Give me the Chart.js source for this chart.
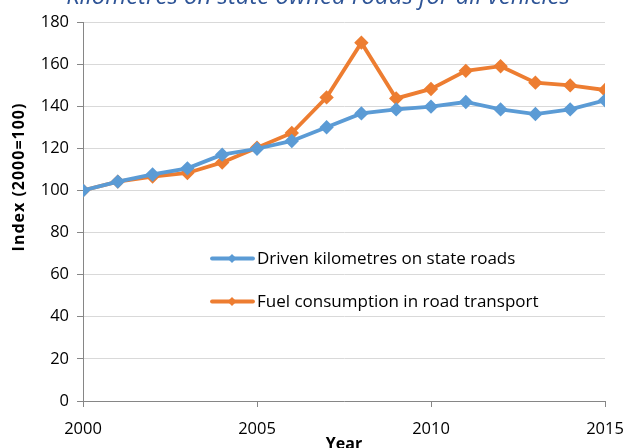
<!DOCTYPE html>
<html>
<head>
<meta charset="utf-8">
<script src="https://cdn.jsdelivr.net/npm/chart.js@4.4.1/dist/chart.umd.min.js"></script>
<style>
  html, body { margin: 0; padding: 0; background: #fff; }
  #wrap { width: 627px; height: 448px; }
</style>
</head>
<body>
<div id="wrap"><canvas id="chart"></canvas></div>
<script>
const years = [2000, 2001, 2002, 2003, 2004, 2005, 2006, 2007, 2008, 2009, 2010, 2011, 2012, 2013, 2014, 2015];
const driven = [100, 104.2, 107.6, 110.5, 117, 119.8, 123.5, 130, 136.6, 138.5, 139.8, 142, 138.5, 136.3, 138.5, 142.8];
const fuel = [100, 104.2, 106.6, 108.3, 113.3, 120.3, 127.3, 144.2, 170.2, 143.7, 148.2, 156.8, 159, 151.2, 149.9, 147.7];
const seriesNames = ['Driven kilometres on state roads', 'Fuel consumption in road transport'];
const chartTitle = 'Kilometres on state owned roads for all vehicles';
const yTitle = 'Index (2000=100)';
const xTitle = 'Year';

const blue = '#5B9BD5';
const orange = '#ED7D31';
const font = '"Open Sans", sans-serif';

// title (partly cut off at the top), y title and the in-plot legend
const extras = {
  id: 'extras',
  afterDraw(chart) {
    const ctx = chart.ctx;
    ctx.save();
    ctx.fillStyle = '#2F5597';
    ctx.font = 'italic 24px ' + font;
    ctx.textAlign = 'center';
    ctx.textBaseline = 'alphabetic';
    ctx.fillText(chartTitle, 318, 4);

    ctx.translate(19, 177);
    ctx.rotate(-Math.PI / 2);
    ctx.fillStyle = '#000';
    ctx.font = 'bold 16px ' + font;
    ctx.letterSpacing = '1px';
    ctx.textBaseline = 'middle';
    ctx.fillText(yTitle, 0, 0);
    ctx.restore();

    const items = [[blue, 258.5], [orange, 301.5]];
    items.forEach((it, i) => {
      ctx.save();
      ctx.strokeStyle = it[0];
      ctx.fillStyle = it[0];
      ctx.lineWidth = 3.8;
      ctx.lineCap = 'round';
      ctx.beginPath();
      ctx.moveTo(212, it[1]);
      ctx.lineTo(253, it[1]);
      ctx.stroke();
      ctx.beginPath();
      ctx.moveTo(232, it[1] - 4.5);
      ctx.lineTo(236.5, it[1]);
      ctx.lineTo(232, it[1] + 4.5);
      ctx.lineTo(227.5, it[1]);
      ctx.closePath();
      ctx.fill();
      ctx.fillStyle = '#000';
      ctx.font = '17px ' + font;
      ctx.textAlign = 'left';
      ctx.textBaseline = 'middle';
      ctx.fillText(seriesNames[i], 257, it[1] + 1);
      ctx.restore();
    });
  }
};

function makeSet(label, values, color) {
  return {
    label: label,
    data: years.map((y, i) => ({ x: y, y: values[i] })),
    borderColor: color,
    backgroundColor: color,
    borderWidth: 3.8,
    pointStyle: 'rectRot',
    pointRadius: 4.5,
    pointHoverRadius: 4.5,
    tension: 0
  };
}

new Chart(document.getElementById('chart'), {
  type: 'line',
  data: {
    datasets: [makeSet(seriesNames[0], driven, blue), makeSet(seriesNames[1], fuel, orange)]
  },
  options: {
    responsive: true,
    maintainAspectRatio: false,
    animation: false,
    layout: { padding: { top: 22, right: 22, left: 0, bottom: -6 } },
    plugins: { legend: { display: false }, tooltip: { enabled: false } },
    scales: {
      x: {
        type: 'linear',
        min: 2000,
        max: 2015,
        afterFit: s => { s.height = 53; s.paddingLeft = 0; s.paddingRight = 0; },
        ticks: { stepSize: 5, color: '#000', font: { family: font, size: 16.5 }, padding: 12, callback: v => String(v) },
        grid: { drawOnChartArea: false, tickLength: 6, color: '#868686' },
        border: { color: '#868686' },
        title: { display: true, text: xTitle, color: '#000', font: { family: font, size: 16, weight: 'bold' }, padding: { top: 0, bottom: 0 } }
      },
      y: {
        min: 0,
        max: 180,
        afterFit: s => { s.width = 83; },
        ticks: { stepSize: 20, color: '#000', font: { family: font, size: 16.5 }, padding: 8 },
        grid: { color: '#D9D9D9', tickLength: 6, tickColor: '#868686' },
        border: { color: '#868686' }
      }
    }
  },
  plugins: [extras]
});
</script>
</body>
</html>
